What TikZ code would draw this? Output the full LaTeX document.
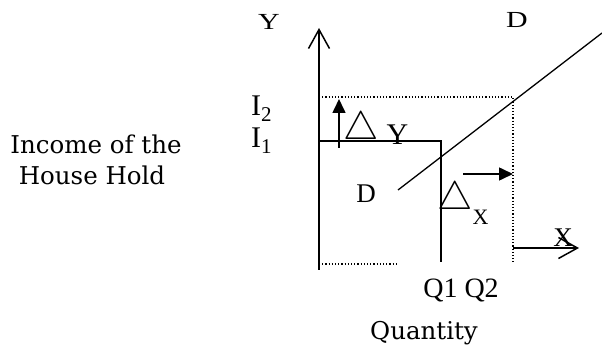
\documentclass[tikz,border=0pt]{standalone}
\usepackage{graphicx}
\usepackage{fontspec}
\setmainfont{Liberation Serif}
\newfontfamily\wideserif{DejaVu Serif}
\newcommand{\wide}[1]{\scalebox{1.3}[1]{#1}}
\newcommand{\bigdelta}{\scalebox{1.6}{$\bigtriangleup$}}
\usetikzlibrary{arrows.meta,positioning}

\begin{document}
\begin{tikzpicture}[x=1pt,y=-1pt,
  axis/.style={line width=1.8pt,-{Straight Barb[length=19pt,width=21pt,line width=1.5pt]}},
  lvl/.style={line width=1.8pt},
  guide/.style={line width=1.2pt,dotted},
  dem/.style={line width=1.3pt},
  move/.style={line width=1.6pt,-{Triangle[length=14pt,width=13pt]}},
  lab/.style={font=\fontsize{27}{30}\selectfont,inner sep=0},
  biglab/.style={font=\fontsize{30}{32}\selectfont,inner sep=0,anchor=base west},
  toplab/.style={font=\fontsize{23}{25}\selectfont,inner sep=0,anchor=base},
  note/.style={font=\wideserif\fontsize{24.5}{27}\selectfont,inner sep=0}]
 \useasboundingbox (0,0) rectangle (602,347);
 % axes
 \coordinate (o) at (319,270);
 \coordinate (ytop) at (319,28);
 \coordinate (xs) at (513,248);
 \coordinate (xe) at (579,248);
 \draw[axis] (o) -- (ytop);
 \draw[axis] (xs) -- (xe);
 \node[toplab] (ylab) at (269,30) {\wide{Y}};
 \node[lab] (xlab) at (563,238) {X};
 % income levels
 \coordinate (i2a) at (319,97);  \coordinate (i2b) at (513,97);
 \coordinate (i2c) at (513,262);
 \coordinate (b1) at (319,264);  \coordinate (b2) at (397,264);
 \draw[guide] (i2a) -- (i2b) -- (i2c);
 \draw[guide] (b1) -- (b2);
 \coordinate (i1a) at (319,141); \coordinate (i1b) at (441,141);
 \coordinate (q1) at (441,262);
 \draw[lvl] (i1a) -- (i1b) -- (q1);
 \node[biglab] (i2) at (251,116) {I\textsubscript{2}};
 \node[biglab] (i1) at (251,148) {I\textsubscript{1}};
 % demand curve
 \coordinate (d1) at (398,190); \coordinate (d2) at (602,33);
 \draw[dem] (d1) -- (d2);
 \node[toplab] (dtop) at (517,28) {\wide{D}};
 \node[lab] (dlow) at (366,194) {D};
 % shifts
 \coordinate (up1) at (339,148); \coordinate (up2) at (339,99);
 \draw[move] (up1) -- (up2);
 \node[biglab] (dy) at (343,145) {\raisebox{5pt}{\bigdelta}\hspace{8pt}Y};
 \coordinate (rt1) at (463,174); \coordinate (rt2) at (513,174);
 \draw[move] (rt1) -- (rt2);
 \node[biglab] (dx) at (437,213)
   {\raisebox{3pt}{\bigdelta}\raisebox{-12pt}{\fontsize{22}{24}\selectfont X}};
 % captions
 \node[lab,font=\fontsize{28}{30}\selectfont] (qq) at (461,291) {Q1 Q2};
 \node[note] (qty) at (424,333) {Quantity};
 \node[note] (inc1) at (96,144) {Income of the};
 \node[note] (inc2) at (92,175) {House Hold};
\end{tikzpicture}
\end{document}
